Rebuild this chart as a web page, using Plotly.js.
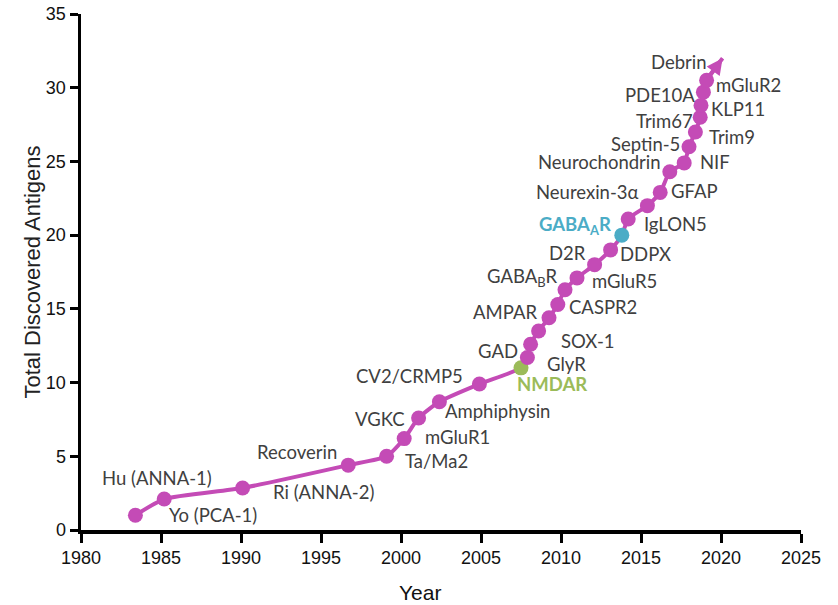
<!DOCTYPE html>
<html>
<head>
<meta charset="utf-8">
<script src="https://cdn.plot.ly/plotly-3.0.1.min.js"></script>
<style>html,body{margin:0;padding:0;background:#fff;}#chart{width:838px;height:605px;}</style>
</head>
<body>
<div id="chart"></div>
<script>
// Data
const antigens = ["Hu (ANNA-1)","Yo (PCA-1)","Ri (ANNA-2)","Recoverin","Ta/Ma2","mGluR1","VGKC","Amphiphysin","CV2/CRMP5","NMDAR",
  "GlyR","GAD","SOX-1","AMPAR","CASPR2","GABA<sub>B</sub>R","mGluR5","D2R","DDPX","GABA<sub>A</sub>R",
  "IgLON5","Neurexin-3α","GFAP","Neurochondrin","NIF","Septin-5","Trim9","Trim67","KLP11","PDE10A","mGluR2","Debrin"];
const years = [1983.4,1985.2,1990.1,1996.7,1999.1,2000.2,2001.1,2002.4,2004.9,2007.5,
  2007.9,2008.1,2008.6,2009.25,2009.8,2010.25,2011.0,2012.1,2013.1,2013.8,
  2014.2,2015.4,2016.2,2016.8,2017.7,2018.0,2018.4,2018.7,2018.75,2018.9,2019.1,2020.1];
const totals = [1.0,2.1,2.85,4.4,5.0,6.2,7.6,8.7,9.9,11.0,
  11.7,12.6,13.5,14.4,15.3,16.3,17.1,18.0,19.0,20.0,
  21.1,22.0,22.9,24.3,24.9,26.0,27.0,28.0,28.8,29.7,30.5,32.0];
const xTicks = [1980,1985,1990,1995,2000,2005,2010,2015,2020,2025];
const yTicks = [0,5,10,15,20,25,30,35];
const xTitle = 'Year';
const yTitle = 'Total Discovered Antigens';

// Label placement (pixel offsets from each point) – layout only
const labelDx = [22,49,81,-51,50,53,-39,58,-70,31, 39,-33,49,-44,45,-43,47,-27,35,-47, 47,-60,34,-70,31,-44,37,-36,37,-43,42,-44];
const labelDy = [-37,16,4,-13,5,-2,1,9,-8,16, 6,7,10,-6,3,-12,3,-12,4,-10, 5,-14,-1,-10,-1,-3,5,4,4,3,5,4];

const MAG = '#C44BB6', GREEN = '#9BBB59', CYAN = '#4BACC6', TXT = '#404040';
const n = years.length;
const colors = antigens.map(a => a === 'NMDAR' ? GREEN : (a.indexOf('GABA<sub>A') === 0 ? CYAN : MAG));
// last point (Debrin) is the arrow tip, drawn without a dot
const sizes = antigens.map((a, i) => i === n - 1 ? 0 : 15);

const trace = {
  type: 'scatter', mode: 'lines+markers',
  x: years, y: totals,
  line: {color: MAG, width: 4, shape: 'spline', smoothing: 0.6},
  marker: {color: colors, symbol: 'circle', size: sizes, opacity: 1, line: {width: 0}},
  hoverinfo: 'x+y', cliponaxis: false
};

const annotations = antigens.map((a, i) => {
  let txt = a, col = TXT;
  if (a === 'NMDAR') { txt = '<b>NMDAR</b>'; col = GREEN; }
  if (a.indexOf('GABA<sub>A') === 0) { txt = '<b>' + a + '</b>'; col = CYAN; }
  return {x: years[i], y: totals[i], xref: 'x', yref: 'y', text: txt, showarrow: false,
    xanchor: 'center', yanchor: 'middle', xshift: labelDx[i], yshift: -labelDy[i],
    font: {family: 'Lato, "Open Sans", sans-serif', size: 18.5, color: col}};
});
// arrow head at the end of the curve
annotations.push({x: years[n - 1], y: totals[n - 1], xref: 'x', yref: 'y',
  ax: years[n - 2], ay: totals[n - 2], axref: 'x', ayref: 'y', text: '',
  showarrow: true, arrowhead: 2, arrowsize: 0.8, arrowwidth: 4, arrowcolor: MAG, standoff: 0, startstandoff: 0});
// x axis title placed as in the reference
annotations.push({xref: 'paper', yref: 'paper', x: 0.471, y: 0, yshift: -62, text: xTitle, showarrow: false,
  xanchor: 'center', yanchor: 'middle',
  font: {family: '"Liberation Sans Narrow", "Arial Narrow", Arial, sans-serif', size: 21, color: '#111'}});

const layout = {
  width: 838, height: 605,
  margin: {l: 81, r: 37, t: 14, b: 75, pad: 0},
  paper_bgcolor: '#fff', plot_bgcolor: '#fff',
  showlegend: false,
  xaxis: {range: [1980, 2025], tickvals: xTicks, ticktext: xTicks.map(String), showgrid: false, zeroline: false,
    showline: true, linecolor: '#000', linewidth: 3.5, ticks: 'outside', ticklen: 9, tickwidth: 3, tickcolor: '#000',
    tickfont: {family: '"Liberation Sans Narrow", "Arial Narrow", Arial, sans-serif', size: 18, color: '#111'}},
  yaxis: {range: [0, 35], tickvals: yTicks, ticktext: yTicks.map(String), showgrid: false, zeroline: false,
    showline: true, linecolor: '#000', linewidth: 3.5, ticks: 'outside', ticklen: 8, tickwidth: 3, tickcolor: '#000',
    tickfont: {family: '"Liberation Sans Narrow", "Arial Narrow", Arial, sans-serif', size: 18, color: '#111'},
    title: {text: yTitle, font: {family: 'Arial, "Liberation Sans", sans-serif', size: 22, color: '#222'}, standoff: 0}},
  annotations: annotations
};

Plotly.newPlot('chart', [trace], layout, {displayModeBar: false, staticPlot: true});
</script>
</body>
</html>
